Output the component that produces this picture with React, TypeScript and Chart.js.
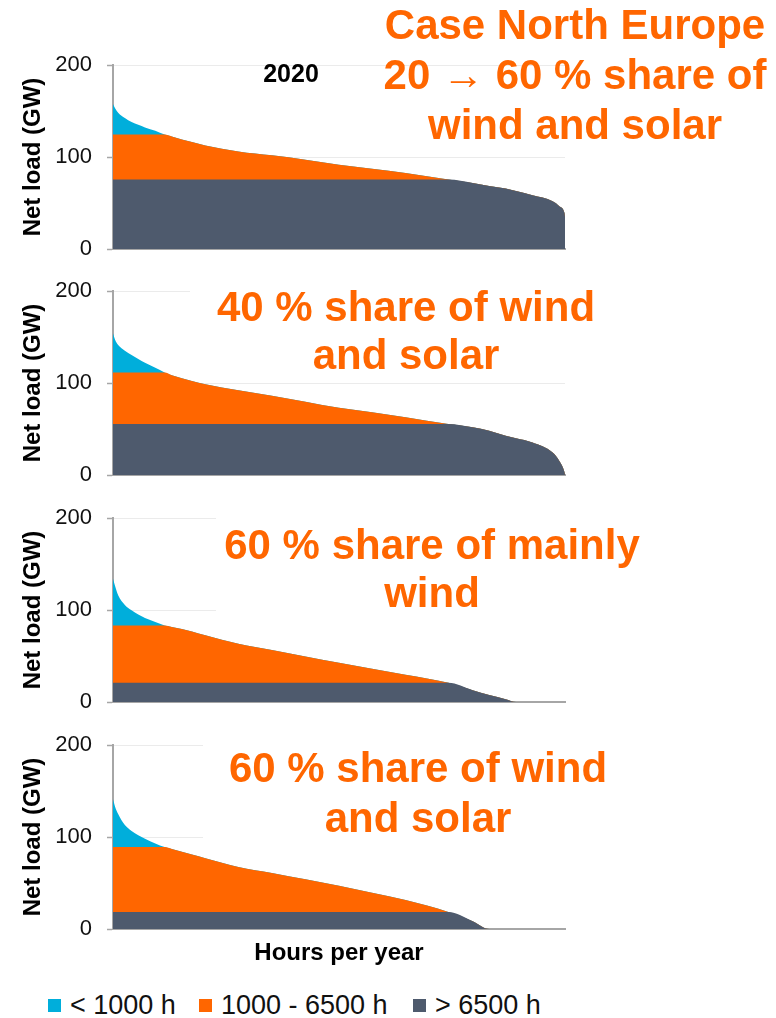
import React, { useEffect, useRef } from "react";
import { Chart, registerables } from "chart.js";

Chart.register(...registerables);

// ---- data ----
const hours = [0, 40, 100, 230, 360, 490, 620, 820, 1000, 1140, 1530, 1790, 2430, 3080, 3730, 4380, 5020, 5670, 6500, 6970, 7290, 7610, 7810, 8130, 8520, 8650, 8750, 8760];
const load2020 = [157.5, 153, 148, 142.3, 138, 135, 132.2, 128.6, 124.5, 122.4, 116.2, 112.6, 106.1, 101.8, 97.1, 91.7, 87.3, 82.6, 75.5, 71.8, 68.5, 65.7, 63, 58.5, 52, 46.6, 39, 35];
const load40Share = [154, 147, 141.3, 135, 130.3, 126, 121.9, 116.5, 111.5, 108.4, 102.2, 98.6, 92, 86.2, 79.6, 73, 68.3, 62.8, 55.5, 51.8, 48, 42.7, 40, 35.4, 24.5, 15.3, 3, 0];
const load60Wind = [134, 126, 116, 105.5, 99.7, 95, 91.3, 87, 83.2, 81.5, 76.7, 72.5, 63.2, 56.5, 49.5, 42.7, 36.2, 29.5, 20.8, 12.8, 7.5, 3, 0, 0, 0, 0, 0, 0];
const load60WindSolar = [141, 133, 125, 113, 106.6, 102, 98.2, 93, 89, 87, 81, 77, 67.5, 61, 54, 47, 39.5, 31.5, 18.5, 8.5, 0, 0, 0, 0, 0, 0, 0, 0];
// net load at 1000 h and at 6500 h for each case (limits of the bands)
const peakLimits = [124.5, 111.5, 83.2, 89];
const baseLimits = [75.5, 55.5, 20.8, 18.5];
const yTicks = [0, 100, 200];
const bandLabels = ["< 1000 h", "1000 - 6500 h", "> 6500 h"];
const bandColors = ["#00aedb", "#ff6600", "#4e5a6d"];
const panelTitles = [
  ["Case North Europe", "20 \u2192 60 % share of", "wind and solar"],
  ["40 % share of wind", "and solar"],
  ["60 % share of mainly", "wind"],
  ["60 % share of wind", "and solar"],
];

const FONT = "'Liberation Sans', Arial, Helvetica, sans-serif";
const AXIS_GRAY = "#a6a6a6";

type PanelProps = {
  load: number[];
  peak: number;
  base: number;
  plotTop: number;
  showXTitle: boolean;
};

function Panel({ load, peak, base, plotTop, showXTitle }: PanelProps) {
  const ref = useRef<HTMLCanvasElement | null>(null);
  const padTop = 29;
  const plotH = 184;
  const bottomSpace = showXTitle ? 50 : 29;
  const height = padTop + plotH + bottomSpace;
  const width = 600;

  useEffect(() => {
    if (!ref.current) return;
    const full = hours.map((h, i) => ({ x: h, y: load[i] }));
    const mid = hours.map((h, i) => ({ x: h, y: Math.min(load[i], peak) }));
    const low = hours.map((h, i) => ({ x: h, y: Math.min(load[i], base) }));
    const common = { borderWidth: 0, pointRadius: 0, fill: "origin", cubicInterpolationMode: "monotone" as const };
    const chart = new Chart(ref.current, {
      type: "line",
      data: {
        datasets: [
          { label: bandLabels[0], data: full, backgroundColor: bandColors[0], order: 3, ...common },
          { label: bandLabels[1], data: mid, backgroundColor: bandColors[1], order: 2, ...common },
          { label: bandLabels[2], data: low, backgroundColor: bandColors[2], order: 1, ...common },
        ],
      },
      options: {
        responsive: false,
        animation: false,
        events: [],
        layout: { padding: { top: padTop, right: 35, left: 0, bottom: showXTitle ? 0 : 29 } },
        plugins: { legend: { display: false }, tooltip: { enabled: false } },
        scales: {
          x: {
            type: "linear",
            min: 0,
            max: 8760,
            ticks: { display: false },
            grid: { display: false, drawTicks: false },
            border: { display: true, color: AXIS_GRAY, width: 2 },
            title: {
              display: showXTitle,
              text: "Hours per year",
              color: "#000",
              font: { family: FONT, size: 24, weight: "bold" },
              padding: { top: 0, bottom: 11 },
            },
            afterFit: (s: any) => {
              s.height = showXTitle ? 50 : 0;
            },
          },
          y: {
            type: "linear",
            min: 0,
            max: 200,
            afterBuildTicks: (s: any) => {
              s.ticks = yTicks.map((v) => ({ value: v }));
            },
            ticks: { color: "#111", font: { family: FONT, size: 22 }, padding: 15 },
            grid: { color: "#ebebeb", lineWidth: 1, tickColor: AXIS_GRAY, tickLength: 6, tickWidth: 1.5 },
            border: { color: AXIS_GRAY, width: 2 },
            title: {
              display: true,
              text: "Net load (GW)",
              color: "#000",
              font: { family: FONT, size: 24, weight: "bold" },
              padding: { top: 19, bottom: 0 },
            },
            afterFit: (s: any) => {
              s.width = 113;
            },
          },
        },
      },
    });
    return () => chart.destroy();
  }, [load, peak, base, showXTitle]);

  return (
    <div style={{ position: "absolute", left: 0, top: plotTop - padTop, width, height }}>
      <canvas ref={ref} width={width} height={height} style={{ display: "block" }} />
    </div>
  );
}

function TitleBlock({ lines, center, top, lineHeight }: { lines: string[]; center: number; top: number; lineHeight: number }) {
  return (
    <div
      style={{
        position: "absolute",
        left: center - 260,
        width: 520,
        top,
        textAlign: "center",
        color: "#ff6600",
        fontFamily: FONT,
        fontWeight: "bold",
        fontSize: 42,
        lineHeight: `${lineHeight}px`,
        whiteSpace: "pre",
      }}
    >
      {lines.map((l, i) => (
        <div key={i}>{l}</div>
      ))}
    </div>
  );
}

const whiteBox = (left: number, top: number, width: number, height: number) => (
  <div style={{ position: "absolute", left, top, width, height, background: "#fff" }} />
);

export default function App() {
  const loads = [load2020, load40Share, load60Wind, load60WindSolar];
  const tops = [65, 291, 518, 745];
  return (
    <div style={{ position: "absolute", left: 0, top: 0, width: 776, height: 1018, background: "#fff", overflow: "hidden", fontFamily: FONT }}>
      {loads.map((l, i) => (
        <Panel key={i} load={l} peak={peakLimits[i]} base={baseLimits[i]} plotTop={tops[i]} showXTitle={i === 3} />
      ))}
      {whiteBox(190, 284, 420, 93)}
      {whiteBox(216, 508, 440, 106)}
      {whiteBox(203, 736, 430, 108)}
      <TitleBlock lines={panelTitles[0]} center={575} top={0} lineHeight={50} />
      <TitleBlock lines={panelTitles[1]} center={406} top={283} lineHeight={48} />
      <TitleBlock lines={panelTitles[2]} center={432} top={521} lineHeight={48} />
      <TitleBlock lines={panelTitles[3]} center={418} top={743} lineHeight={50} />
      <div style={{ position: "absolute", left: 241, width: 100, top: 58, textAlign: "center", fontWeight: "bold", fontSize: 25, lineHeight: "30px", color: "#000" }}>
        2020
      </div>
      {bandLabels.map((lab, i) => {
        const sq = [48, 199, 413][i];
        return (
          <React.Fragment key={lab}>
            <div style={{ position: "absolute", left: sq, top: 999, width: 13, height: 13, background: bandColors[i] }} />
            <div style={{ position: "absolute", left: sq + 22, top: 990, fontSize: 27, lineHeight: "30px", color: "#111", whiteSpace: "pre" }}>
              {lab}
            </div>
          </React.Fragment>
        );
      })}
    </div>
  );
}
